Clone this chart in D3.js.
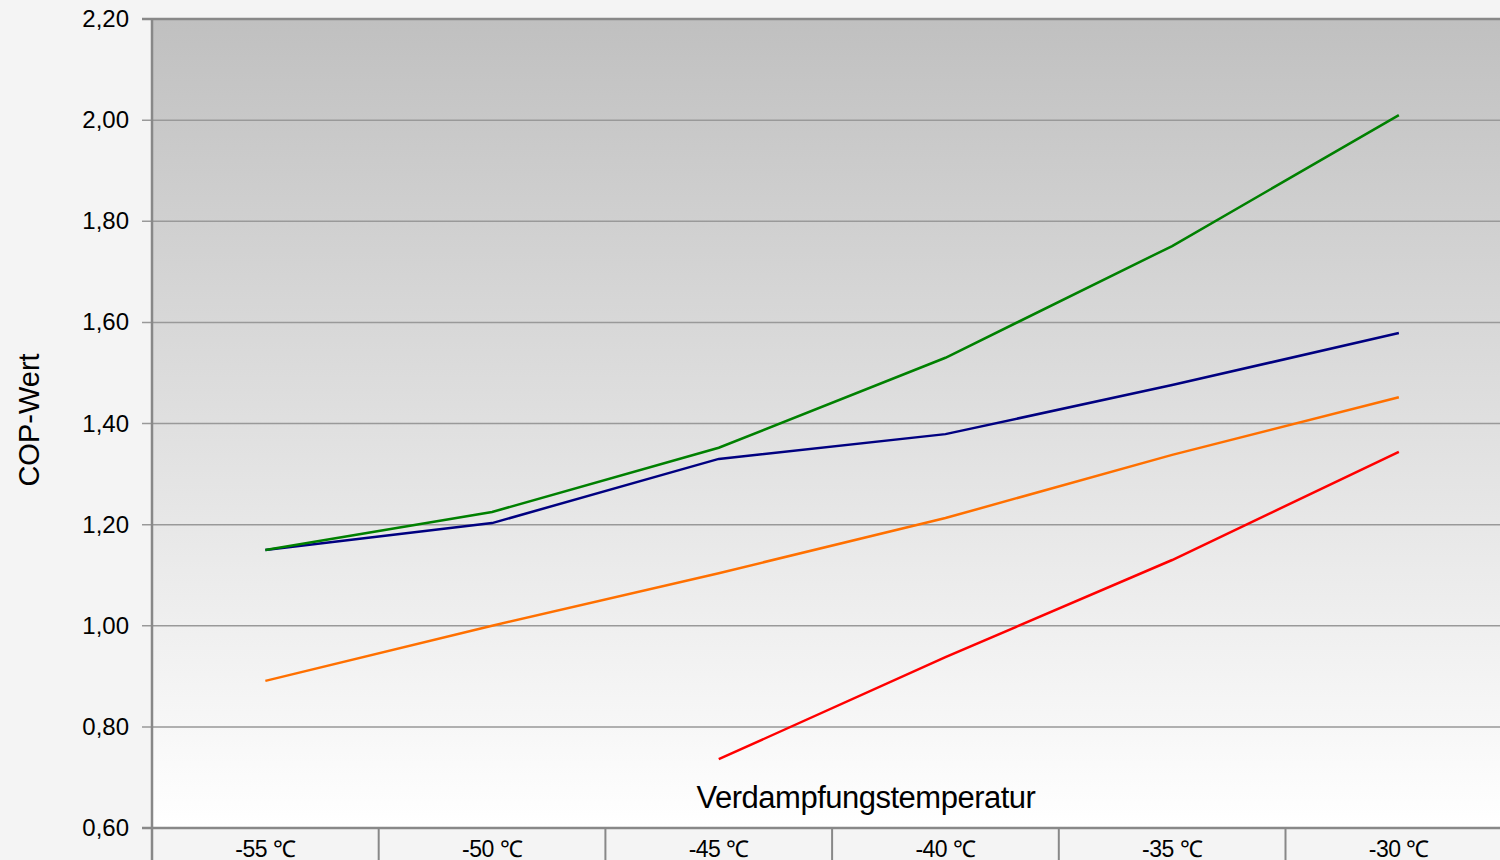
<!DOCTYPE html>
<html>
<head>
<meta charset="utf-8">
<script src="https://cdn.jsdelivr.net/npm/d3@7"></script>
<style>
  body { margin: 0; background: #f4f4f4; }
  svg { display: block; font-family: "Liberation Sans", Arial, sans-serif; }
</style>
</head>
<body>
<svg width="1500" height="860"></svg>
<script>
var categories = ['-55 ℃', '-50 ℃', '-45 ℃', '-40 ℃', '-35 ℃', '-30 ℃'];
var yTicks = [0.6, 0.8, 1.0, 1.2, 1.4, 1.6, 1.8, 2.0, 2.2];

// COP values per series (null = no value)
var greenValues  = [1.15, 1.225, 1.352, 1.53, 1.751, 2.01];
var blueValues   = [1.15, 1.203, 1.33, 1.379, 1.476, 1.579];
var orangeValues = [0.891, 1.0, 1.104, 1.213, 1.338, 1.452];
var redValues    = [null, null, 0.736, 0.938, 1.13, 1.344];

var series = [
  { name: 'orange', color: '#ff7000', values: orangeValues },
  { name: 'red', color: '#ff0000', values: redValues },
  { name: 'blue', color: '#000080', values: blueValues },
  { name: 'green', color: '#008000', values: greenValues }
];

var svg = d3.select('svg');
var plotLeft = 152, plotTop = 19, plotBottom = 828, bandW = 226.7;

var x = d3.scaleBand()
  .domain(categories)
  .range([plotLeft, plotLeft + bandW * categories.length]);

var y = d3.scaleLinear()
  .domain([0.6, 2.2])
  .range([plotBottom, plotTop]);

// plot background gradient
var grad = svg.append('defs').append('linearGradient')
  .attr('id', 'bg').attr('x1', 0).attr('y1', 0).attr('x2', 0).attr('y2', 1);
grad.append('stop').attr('offset', '0%').attr('stop-color', '#c0c0c0');
grad.append('stop').attr('offset', '100%').attr('stop-color', '#ffffff');

svg.append('rect')
  .attr('x', plotLeft).attr('y', plotTop)
  .attr('width', 1500 - plotLeft).attr('height', plotBottom - plotTop)
  .attr('fill', 'url(#bg)');

// gridlines
svg.append('g')
  .selectAll('line')
  .data(yTicks)
  .enter()
  .append('line')
  .attr('x1', plotLeft - 10).attr('x2', 1500)
  .attr('y1', function(d) { return y(d); })
  .attr('y2', function(d) { return y(d); })
  .attr('stroke', function(d) { return d == 0.6 || d == 2.2 ? '#888' : '#999'; })
  .attr('stroke-width', function(d) { return d == 0.6 || d == 2.2 ? 2.5 : 1.5; });

// y labels
svg.append('g')
  .selectAll('text')
  .data(yTicks)
  .enter()
  .append('text')
  .attr('x', 129)
  .attr('y', function(d) { return y(d) + 8; })
  .attr('text-anchor', 'end')
  .attr('font-size', 24)
  .attr('fill', '#000')
  .text(function(d) { return d3.format('.2f')(d).replace('.', ','); });

// y axis line
svg.append('line')
  .attr('x1', plotLeft).attr('x2', plotLeft)
  .attr('y1', plotTop).attr('y2', 860)
  .attr('stroke', '#888').attr('stroke-width', 2.5);

// category dividers below the axis
svg.append('g')
  .selectAll('line')
  .data(categories.slice(1))
  .enter()
  .append('line')
  .attr('x1', function(d) { return x(d); })
  .attr('x2', function(d) { return x(d); })
  .attr('y1', plotBottom).attr('y2', 860)
  .attr('stroke', '#888').attr('stroke-width', 2);

// x labels
svg.append('g')
  .selectAll('text')
  .data(categories)
  .enter()
  .append('text')
  .attr('x', function(d) { return x(d) + x.bandwidth() / 2; })
  .attr('y', 857)
  .attr('text-anchor', 'middle')
  .attr('font-size', 23)
  .attr('letter-spacing', -0.5)
  .text(function(d) { return d; });

// lines
var line = d3.line()
  .defined(function(d) { return d.v != null; })
  .x(function(d) { return x(d.c) + x.bandwidth() / 2; })
  .y(function(d) { return y(d.v); });

svg.append('g')
  .selectAll('path')
  .data(series)
  .enter()
  .append('path')
  .attr('fill', 'none')
  .attr('stroke', function(d) { return d.color; })
  .attr('stroke-width', 2.5)
  .attr('d', function(d) {
    return line(d.values.map(function(v, i) { return { c: categories[i], v: v }; }));
  });

// axis titles
svg.append('text')
  .attr('x', 866).attr('y', 808)
  .attr('text-anchor', 'middle')
  .attr('font-size', 31)
  .attr('letter-spacing', -0.5)
  .text('Verdampfungstemperatur');

svg.append('text')
  .attr('transform', 'translate(39,420) rotate(-90)')
  .attr('text-anchor', 'middle')
  .attr('font-size', 29)
  .text('COP-Wert');
</script>
</body>
</html>
